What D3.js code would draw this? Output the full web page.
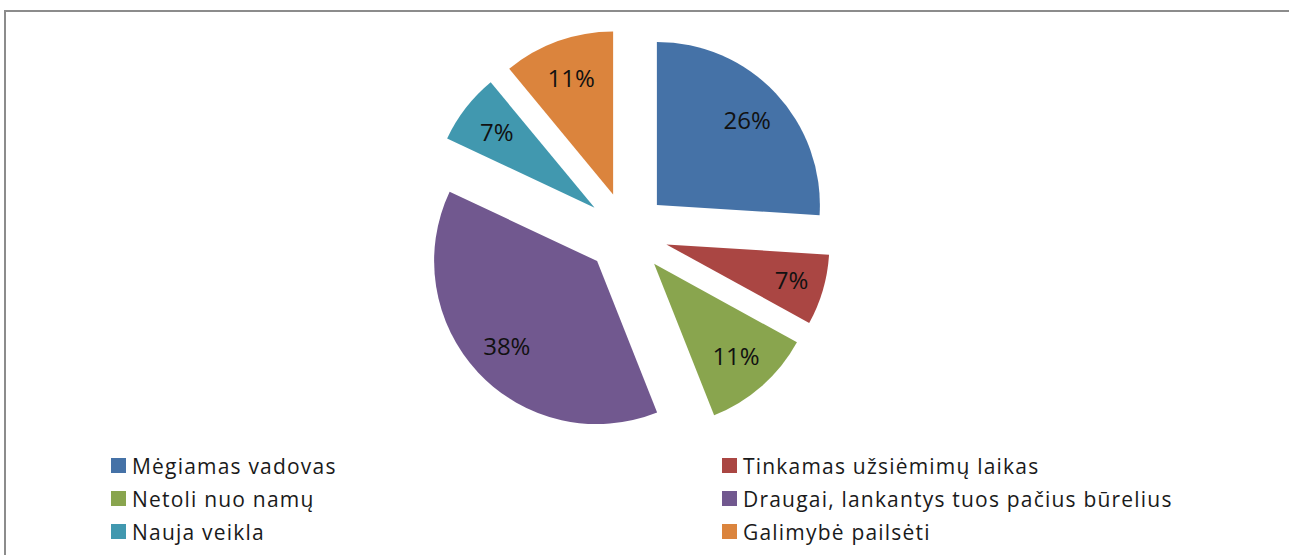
<!DOCTYPE html>
<html>
<head>
<meta charset="utf-8">
<title>Pie</title>
<script src="https://d3js.org/d3.v7.min.js"></script>
<style>
  body { margin:0; background:#fff; overflow:hidden; }
</style>
</head>
<body>
<svg id="chart" width="1289" height="555"></svg>
<script>
  // data
  const categories = ["Mėgiamas vadovas", "Tinkamas užsiėmimų laikas", "Netoli nuo namų",
                      "Draugai, lankantys tuos pačius būrelius", "Nauja veikla", "Galimybė pailsėti"];
  const values = [26, 7, 11, 38, 7, 11];
  const colors = ["#4572A7", "#AA4643", "#89A54E", "#71588F", "#4198AF", "#DB843D"];

  const svg = d3.select("#chart");
  const cx = 627, cy = 233, radius = 163, explode = 41;

  // frame (runs off the right and bottom edge)
  svg.append("rect")
      .attr("x", 5).attr("y", 11)
      .attr("width", 1320).attr("height", 600)
      .attr("fill", "none")
      .attr("stroke", "#8c8c8c")
      .attr("stroke-width", 2);

  const pie = d3.pie().sort(null).value(d => d);
  const arcs = pie(values);
  const arc = d3.arc().innerRadius(0).outerRadius(radius);

  const offset = d => {
    const a = (d.startAngle + d.endAngle) / 2;
    return [explode * Math.sin(a), -explode * Math.cos(a)];
  };

  const g = svg.append("g").attr("transform", `translate(${cx},${cy})`);

  const slice = g.selectAll("g.slice")
      .data(arcs)
      .join("g")
      .attr("class", "slice")
      .attr("transform", d => `translate(${offset(d)})`);

  slice.append("path")
      .attr("d", arc)
      .attr("fill", (d, i) => colors[i]);

  const total = d3.sum(values);
  slice.append("text")
      .attr("transform", d => {
        const a = (d.startAngle + d.endAngle) / 2;
        const r = radius * (d.data < 10 && a < Math.PI ? 0.8 : 0.76);
        return `translate(${r * Math.sin(a)},${-r * Math.cos(a)})`;
      })
      .attr("text-anchor", "middle")
      .attr("dy", "0.36em")
      .style("font", "24px 'Open Sans', sans-serif")
      .attr("fill", "#111")
      .text(d => Math.round(d.data / total * 100) + "%");

  // legend, two columns
  const legend = svg.append("g")
      .selectAll("g")
      .data(categories)
      .join("g")
      .attr("transform", (d, i) => `translate(${i % 2 ? 722 : 111},${458 + Math.floor(i / 2) * 33})`);

  legend.append("rect")
      .attr("width", 15).attr("height", 15)
      .attr("fill", (d, i) => colors[i]);

  legend.append("text")
      .attr("x", 21)
      .attr("y", 8)
      .attr("dy", "0.36em")
      .style("font", "21px 'Open Sans', sans-serif")
      .style("letter-spacing", "1.2px")
      .attr("fill", "#1a1a1a")
      .text(d => d);
</script>
</body>
</html>
